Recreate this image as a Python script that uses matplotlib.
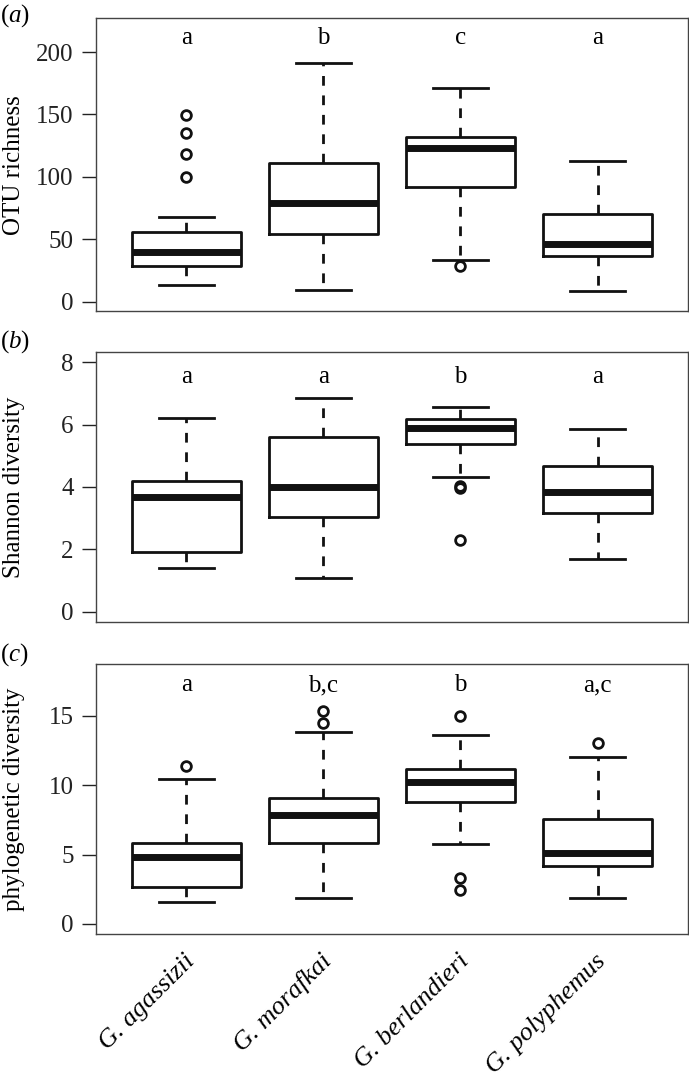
import matplotlib
matplotlib.use("Agg")
import matplotlib.pyplot as plt
import matplotlib.transforms as mtransforms

plt.rcParams['font.family'] = ['Liberation Serif', 'DejaVu Serif']
plt.rcParams['mathtext.fontset'] = 'custom'
plt.rcParams['mathtext.rm'] = 'Liberation Serif'
plt.rcParams['mathtext.it'] = 'Liberation Serif:italic'

species = ['G. agassizii', 'G. morafkai', 'G. berlandieri', 'G. polyphemus']

# (a) OTU richness: lower whisker, Q1, median, Q3, upper whisker
otu_whislo = [13.6, 9.6, 33.6, 8.3]
otu_q1 = [28.3, 54.4, 91.5, 36.5]
otu_med = [39.7, 78.9, 123.5, 46.1]
otu_q3 = [55.5, 110.9, 132.3, 70.1]
otu_whishi = [67.7, 190.9, 170.9, 113.1]
otu_fliers = [[99.5, 118.4, 135.5, 149.6], [], [28.3], []]
otu_letters = ['a', 'b', 'c', 'a']

# (b) Shannon diversity
sha_whislo = [1.41, 1.09, 4.33, 1.68]
sha_q1 = [1.91, 3.05, 5.38, 3.18]
sha_med = [3.69, 4.01, 5.88, 3.83]
sha_q3 = [4.19, 5.60, 6.17, 4.67]
sha_whishi = [6.22, 6.87, 6.56, 5.85]
sha_fliers = [[], [], [2.30, 3.96, 4.04], []]
sha_letters = ['a', 'a', 'b', 'a']

# (c) phylogenetic diversity
pd_whislo = [1.56, 1.90, 5.77, 1.90]
pd_q1 = [2.69, 5.82, 8.82, 4.20]
pd_med = [4.81, 7.86, 10.22, 5.10]
pd_q3 = [5.82, 9.06, 11.18, 7.55]
pd_whishi = [10.43, 13.87, 13.63, 12.02]
pd_fliers = [[11.41], [14.47, 15.36], [2.45, 3.29, 15.0], [13.03]]
pd_letters = ['a', 'b,c', 'b', 'a,c']

panels = [
    ('a', 'OTU richness', (otu_whislo, otu_q1, otu_med, otu_q3, otu_whishi, otu_fliers),
     otu_letters, [0, 50, 100, 150, 200], (-7.5, 227), 211),
    ('b', 'Shannon diversity', (sha_whislo, sha_q1, sha_med, sha_q3, sha_whishi, sha_fliers),
     sha_letters, [0, 2, 4, 6, 8], (-0.32, 8.32), 7.54),
    ('c', 'phylogenetic diversity', (pd_whislo, pd_q1, pd_med, pd_q3, pd_whishi, pd_fliers),
     pd_letters, [0, 5, 10, 15], (-0.72, 18.72), 17.2),
]

# axes boxes in figure fraction (left, bottom, width, height)
rects = [(0.1393, 0.7123, 0.8592, 0.2707),
         (0.1393, 0.4249, 0.8592, 0.2492),
         (0.1393, 0.1360, 0.8592, 0.2495)]
tag_y = [0.9852, 0.6836, 0.3941]

fig = plt.figure(figsize=(6.89, 10.81), dpi=100)

for (tag, ylab, vals, letters, yt, ylim, ylet), rect, ty in zip(panels, rects, tag_y):
    ax = fig.add_axes(rect)
    wlo, q1, med, q3, whi, fl = vals
    stats = []
    for i in range(4):
        stats.append(dict(whislo=wlo[i], q1=q1[i], med=med[i], q3=q3[i],
                          whishi=whi[i], fliers=fl[i]))
    ax.bxp(stats, positions=[1, 2, 3, 4], widths=0.8, showfliers=True,
           boxprops=dict(color='#111111', linewidth=2),
           medianprops=dict(color='#111111', linewidth=5, solid_capstyle='butt'),
           whiskerprops=dict(color='#111111', linewidth=2, linestyle=(0, (3.5, 3.5))),
           capprops=dict(color='#111111', linewidth=2),
           capwidths=0.4,
           flierprops=dict(marker='o', markerfacecolor='none', markeredgecolor='#111111',
                           markersize=7, markeredgewidth=2, linestyle='none'))
    ax.set_xlim(0.34, 4.66)
    ax.set_ylim(*ylim)
    ax.set_yticks(yt)
    ax.tick_params(axis='y', length=10, width=1, labelsize=18, pad=6, colors='#222222')
    ax.tick_params(axis='x', length=0)
    for s in ax.spines.values():
        s.set_linewidth(1)
        s.set_color('#444444')
    ax.set_ylabel(ylab, fontsize=18)
    ax.yaxis.set_label_coords(-0.12, 0.5)
    for i, t in enumerate(letters):
        ax.text(i + 1, ylet, t, ha='center', va='center', fontsize=18)
    fig.text(0.0, ty, '($\\mathit{%s}$)' % tag, ha='left', va='center', fontsize=18)
    if tag == 'c':
        ax.set_xticks([1, 2, 3, 4])
        ax.set_xticklabels(species, rotation=45, ha='right', va='center',
                           rotation_mode='anchor', fontsize=19, style='italic')
        ax.tick_params(axis='x', pad=17)
        shift = mtransforms.ScaledTranslation(5 / 100, 0, fig.dpi_scale_trans)
        for lab in ax.get_xticklabels():
            lab.set_transform(lab.get_transform() + shift)
    else:
        ax.set_xticks([])

fig.savefig('out.png', dpi=100)
